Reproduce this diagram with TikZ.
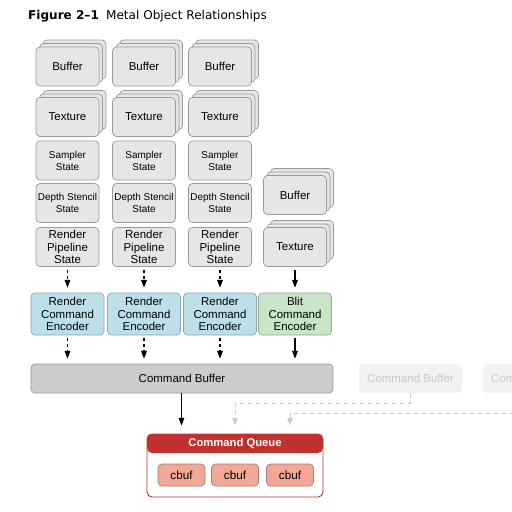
\documentclass[tikz,border=0pt]{standalone}
\usepackage{fontspec}
\setmainfont{Liberation Sans}
\newfontfamily\titlefont{DejaVu Sans}
\usetikzlibrary{arrows.meta,shadows}
\definecolor{boxgray}{HTML}{E6E6E6}
\definecolor{edgegray}{HTML}{9A9A9A}
\definecolor{encblue}{HTML}{BCE0EA}
\definecolor{encedge}{HTML}{8FA4AC}
\definecolor{blitgreen}{HTML}{C8E5C8}
\definecolor{blitedge}{HTML}{8FAA8F}
\definecolor{cbgray}{HTML}{CCCCCC}
\definecolor{fadegray}{HTML}{F2F2F2}
\definecolor{fadetext}{HTML}{C8C8C8}
\definecolor{queuered}{HTML}{C0302F}
\definecolor{cbufred}{HTML}{F2A896}
\definecolor{cbufedge}{HTML}{A08078}
\tikzset{
  >=Stealth,
  every node/.append style={font=\fontsize{9.8}{10.4}\selectfont},
}
\begin{document}
\begin{tikzpicture}[
  x=0.3mm, y=-0.3mm,
  objbox/.style={draw=edgegray, fill=boxgray, rounded corners=1.2mm, line width=0.6pt, align=center, inner sep=1pt, minimum width=18.9mm, minimum height=11.7mm},
  smallbox/.style={objbox, font=\fontsize{8.5}{10.2}\selectfont},
  stacked/.style={
    general shadow={draw=edgegray, fill=boxgray, line width=0.6pt, shadow xshift=2.1mm, shadow yshift=2.1mm},
    general shadow={draw=edgegray, fill=boxgray, line width=0.6pt, shadow xshift=1.05mm, shadow yshift=1.05mm}},
  encbox/.style={objbox, fill=encblue, draw=encedge, minimum width=21.9mm, minimum height=12.6mm},
  blitbox/.style={encbox, fill=blitgreen, draw=blitedge},
  cbbox/.style={objbox, fill=cbgray, minimum width=90.6mm, minimum height=8.7mm},
  fadebox/.style={fill=fadegray, text=fadetext, rounded corners=1.2mm, minimum width=30.9mm, minimum height=8.7mm},
  queuebox/.style={draw=queuered, line width=0.8pt, fill=white, rounded corners=1.5mm, minimum width=52.8mm, minimum height=18.9mm,
    path picture={\fill[queuered] (path picture bounding box.north west) rectangle ([yshift=-5.7mm]path picture bounding box.north east);}},
  queuetitle/.style={text=white, font=\bfseries\fontsize{9.6}{11}\selectfont},
  cbufbox/.style={draw=cbufedge, fill=cbufred, line width=0.6pt, rounded corners=1.2mm, minimum width=14.1mm, minimum height=6.6mm, font=\fontsize{10}{12}\selectfont},
  solidarrow/.style={-{Triangle[length=2.3mm,width=1.7mm]}, line width=0.9pt, shorten <=0.9mm, shorten >=1.5mm},
  dasharrow/.style={solidarrow, dash pattern=on 0.9mm off 0.9mm},
  fadearrow/.style={-{Triangle[length=2.3mm,width=1.7mm]}, draw=cbgray, line width=0.8pt, dash pattern=on 1.5mm off 0.9mm, shorten >=2.4mm}
]
\useasboundingbox (0,0) rectangle (512,512);
\clip (0,0) rectangle (512,512);

% Title
\node[anchor=west, font=\titlefont\fontsize{10.3}{12}\selectfont] (title) at (24,16)
  {\textbf{Figure 2–1}\hspace{0.6em}Metal Object Relationships};

% Render columns
\foreach \x [count=\i] in {67.5,144,220} {
  \node[objbox, stacked] (buf\i) at (\x,66.5) {Buffer};
  \node[objbox, stacked] (tex\i) at (\x,117) {Texture};
  \node[smallbox] (smp\i) at (\x,160.5) {Sampler\\State};
  \node[smallbox] (dss\i) at (\x,203) {Depth Stencil\\State};
  \node[objbox] (rps\i) at (\x,247) {Render\\Pipeline\\State};
  \node[encbox] (enc\i) at (\x,314) {Render\\Command\\Encoder};
  \draw[dasharrow] (rps\i) -- (enc\i);
}

% Blit column
\node[objbox, stacked] (buf4) at (295,195) {Buffer};
\node[objbox, stacked] (tex4) at (295,247) {Texture};
\node[blitbox] (enc4) at (295,314) {Blit\\Command\\Encoder};
\draw[solidarrow] (tex4) -- (enc4);

% Command buffers
\node[cbbox] (cb) at (182,378.5) {Command Buffer};
\node[fadebox] (cbB) at (410.5,378.5) {Command Buffer};
\node[fadebox] (cbC) at (534.5,378.5) {Command Buffer};

\foreach \i in {1,2,3}
  \draw[dasharrow] (enc\i) -- (enc\i |- cb.north);
\draw[solidarrow] (enc4) -- (enc4 |- cb.north);

% Command queue
\node[queuebox] (queue) at (235,465.5) {};
\node[queuetitle] (qtitle) at ([yshift=-2.85mm]queue.north) {Command Queue};
\node[cbufbox] (cbuf1) at (181.5,475) {cbuf};
\node[cbufbox] (cbuf2) at (235,475) {cbuf};
\node[cbufbox] (cbuf3) at (290,475) {cbuf};

\draw[solidarrow, shorten <=0mm, shorten >=2.4mm] (cb.south -| cbuf1) -- (cbuf1 |- queue.north);
\draw[fadearrow] (cbB.south) -- ++(0,10) -| (cbuf2 |- queue.north);
\draw[fadearrow] (cbC.south) -- ++(0,20) -| (cbuf3 |- queue.north);

\end{tikzpicture}
\end{document}
